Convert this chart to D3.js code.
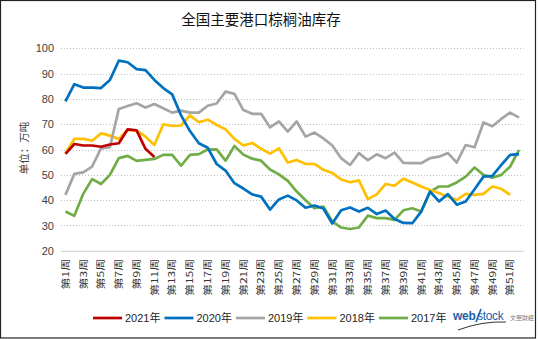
<!DOCTYPE html>
<html><head><meta charset="utf-8">
<script src="https://cdn.jsdelivr.net/npm/d3@7/dist/d3.min.js"></script>
<style>body{margin:0;background:#fff;} svg{display:block;}</style>
</head><body>
<svg id="c" width="538" height="339"></svg>
<script>
const weeks = d3.range(1, 53).map(i => "第" + i + "周");
const weekLabels = weeks.filter((w, i) => i % 2 === 0);
const yTicks = [20, 30, 40, 50, 60, 70, 80, 90, 100];
const seriesNames = ["2021年", "2020年", "2019年", "2018年", "2017年"];

const v2021 = [58.3, 62.2, 61.6, 61.6, 61.1, 62.0, 62.5, 68.0, 67.6, 60.3, 57.1];
const v2020 = [79, 85.8, 84.5, 84.5, 84.3, 87.5, 95.1, 94.5, 91.8, 91.4, 87.5, 84.3, 81.8, 73.5, 67.3, 62.5, 60.7, 54.3, 51.7, 46.7, 44.6, 42.3, 41.4, 36.3, 40.3, 41.8, 39.9, 37.0, 37.9, 36.7, 30.8, 36.0, 37.1, 35.5, 37.0, 34.5, 35.9, 32.6, 31.0, 30.9, 35.5, 43.4, 39.5, 42.4, 38.2, 39.5, 44.3, 49.3, 49.6, 53.9, 57.9, 58.2];
const v2019 = [42.1, 50.4, 51, 53.3, 60.5, 60.9, 76, 77.2, 78.3, 76.6, 78, 76.3, 74.6, 75.4, 74.6, 74.6, 77.3, 78.2, 82.9, 82, 75.6, 74.1, 74.1, 68.8, 71.1, 67.1, 71.1, 65.1, 66.7, 64.4, 61.6, 56.6, 53.9, 58.6, 55.8, 58.1, 56.6, 58.8, 54.7, 54.6, 54.6, 56.6, 57.2, 58.6, 54.9, 61.8, 60.9, 70.7, 69.2, 72.1, 74.6, 72.6];
const v2018 = [58.6, 64.2, 64.2, 63.5, 66.4, 65.5, 64.2, 67.8, 67.5, 65.1, 61.8, 70, 69.3, 69.5, 73.5, 70.8, 71.8, 69.7, 68, 64.2, 61.6, 62.6, 60.3, 58.4, 60.5, 54.9, 55.9, 54.3, 54.3, 52, 50.7, 48.2, 47.1, 47.8, 40.4, 42.3, 46.4, 45.7, 48.5, 47, 45.4, 44, 42.8, 41.4, 40.1, 42.5, 42.1, 42.5, 45.4, 44.5, 42.1];
const v2017 = [35.5, 33.8, 42.5, 48.3, 46.4, 50, 56.6, 57.5, 55.5, 55.9, 56.3, 57.9, 57.9, 53.6, 57.9, 58.2, 60, 60.1, 55.6, 61.4, 58, 56.4, 55.6, 52.1, 50.2, 47.6, 43.4, 40, 36.8, 37.5, 31.6, 29.2, 28.6, 29.2, 33.9, 32.9, 32.9, 32.2, 36, 36.8, 35.5, 43.4, 45.4, 45.4, 47, 49.3, 52.9, 50, 48.9, 50, 53.3, 59.9];

const colors = ["#C00000", "#0070C0", "#A5A5A5", "#FFC000", "#70AD47"];
const seriesValues = [v2021, v2020, v2019, v2018, v2017];
const series = seriesNames.map((n, i) => ({name: n, color: colors[i], values: seriesValues[i]}));

const svg = d3.select("#c");
const latin = "'Liberation Sans', Arial, 'Noto Sans CJK SC', sans-serif";
const cjk = "'Noto Sans CJK SC', 'Liberation Sans', sans-serif";

// frame
svg.append("rect").attr("x", 0.5).attr("y", 0.5).attr("width", 535).attr("height", 337.5)
  .attr("fill", "#fff").attr("stroke", "#222").attr("stroke-width", 1.2);

const x = d3.scaleBand().domain(weeks).range([61, 523.5]).paddingInner(0).paddingOuter(0);
const y = d3.scaleLinear().domain([20, 100]).range([250.8, 48.3]);
const cx = w => x(w) + x.bandwidth() / 2;

// title
svg.append("text").attr("x", 261).attr("y", 25).attr("text-anchor", "middle")
  .attr("font-family", cjk).attr("font-size", 14.5).attr("fill", "#111")
  .text("全国主要港口棕榈油库存");

// grid
const grid = svg.append("g");
grid.selectAll("line").data(yTicks.filter(t => t > 20)).join("line")
  .attr("x1", 61).attr("x2", 523.5)
  .attr("y1", d => Math.round(y(d)) + 0.5).attr("y2", d => Math.round(y(d)) + 0.5)
  .attr("stroke", "#BFBFBF").attr("stroke-width", 1).attr("stroke-dasharray", "1,2");

// y axis labels
const yAxis = svg.append("g").attr("transform", "translate(61,0)")
  .call(d3.axisLeft(y).tickValues(yTicks).tickSize(0).tickPadding(7));
yAxis.select(".domain").remove();
yAxis.selectAll("text").attr("font-family", latin).attr("font-size", 11).attr("fill", "#404040");

// x axis
const xAxis = svg.append("g").attr("transform", "translate(0," + y(20) + ")")
  .call(d3.axisBottom(x).tickValues(weekLabels).tickSize(0));
xAxis.select(".domain").attr("stroke", "#D0D0D0").attr("d", "M61,0.5H523.5");
xAxis.selectAll("text")
  .attr("font-family", cjk).attr("font-size", 12).attr("fill", "#333")
  .attr("text-anchor", "end").attr("dy", "0.35em")
  .attr("transform", "translate(0,8) rotate(-90) scale(1,0.78)")
  .attr("x", 0).attr("y", 0);

// y unit label
svg.append("text").attr("transform", "translate(28,148) rotate(-90)")
  .attr("text-anchor", "middle").attr("font-family", cjk).attr("font-size", 10.5).attr("fill", "#404040")
  .text("单位：万吨");

// lines
const line = d3.line().x((d, i) => cx(weeks[i])).y(d => y(d));
svg.append("g").selectAll("path").data(series.slice().reverse()).join("path")
  .attr("d", d => line(d.values)).attr("fill", "none")
  .attr("stroke", d => d.color).attr("stroke-width", 2.7)
  .attr("stroke-linejoin", "round").attr("stroke-linecap", "butt");

// legend
const lg = svg.append("g");
let lx = 93;
const ly = 318;
series.forEach(s => {
  lg.append("line").attr("x1", lx).attr("x2", lx + 29).attr("y1", ly).attr("y2", ly)
    .attr("stroke", s.color).attr("stroke-width", 2.7);
  const t = lg.append("text").attr("x", lx + 32).attr("y", ly + 4)
    .attr("font-family", latin).attr("font-size", 11).attr("fill", "#262626").text(s.name);
  lx = lx + 32 + t.node().getComputedTextLength() + 4;
});

// logo
const logo = svg.append("g");
logo.append("text").attr("x", 453).attr("y", 320).attr("font-family", "'Liberation Sans', Arial, sans-serif")
  .attr("font-size", 12).attr("font-weight", "bold").attr("fill", "#1F5FAA").attr("letter-spacing", -0.3).text("web");
logo.append("text").attr("x", 477).attr("y", 320).attr("font-family", "'Liberation Sans', Arial, sans-serif")
  .attr("font-size", 12).attr("fill", "#1F5FAA").attr("letter-spacing", -0.3).text("stock");
logo.append("path").attr("d", "M458,330 Q482,321 506,322").attr("fill", "none").attr("stroke", "#333").attr("stroke-width", 1);
logo.append("path").attr("d", "M476,322 L481,309").attr("fill", "none").attr("stroke", "#1F5FAA").attr("stroke-width", 1.6);
logo.append("text").attr("x", 510).attr("y", 320).attr("font-family", cjk)
  .attr("font-size", 6).attr("fill", "#777").text("文華財經");
</script>
</body></html>
